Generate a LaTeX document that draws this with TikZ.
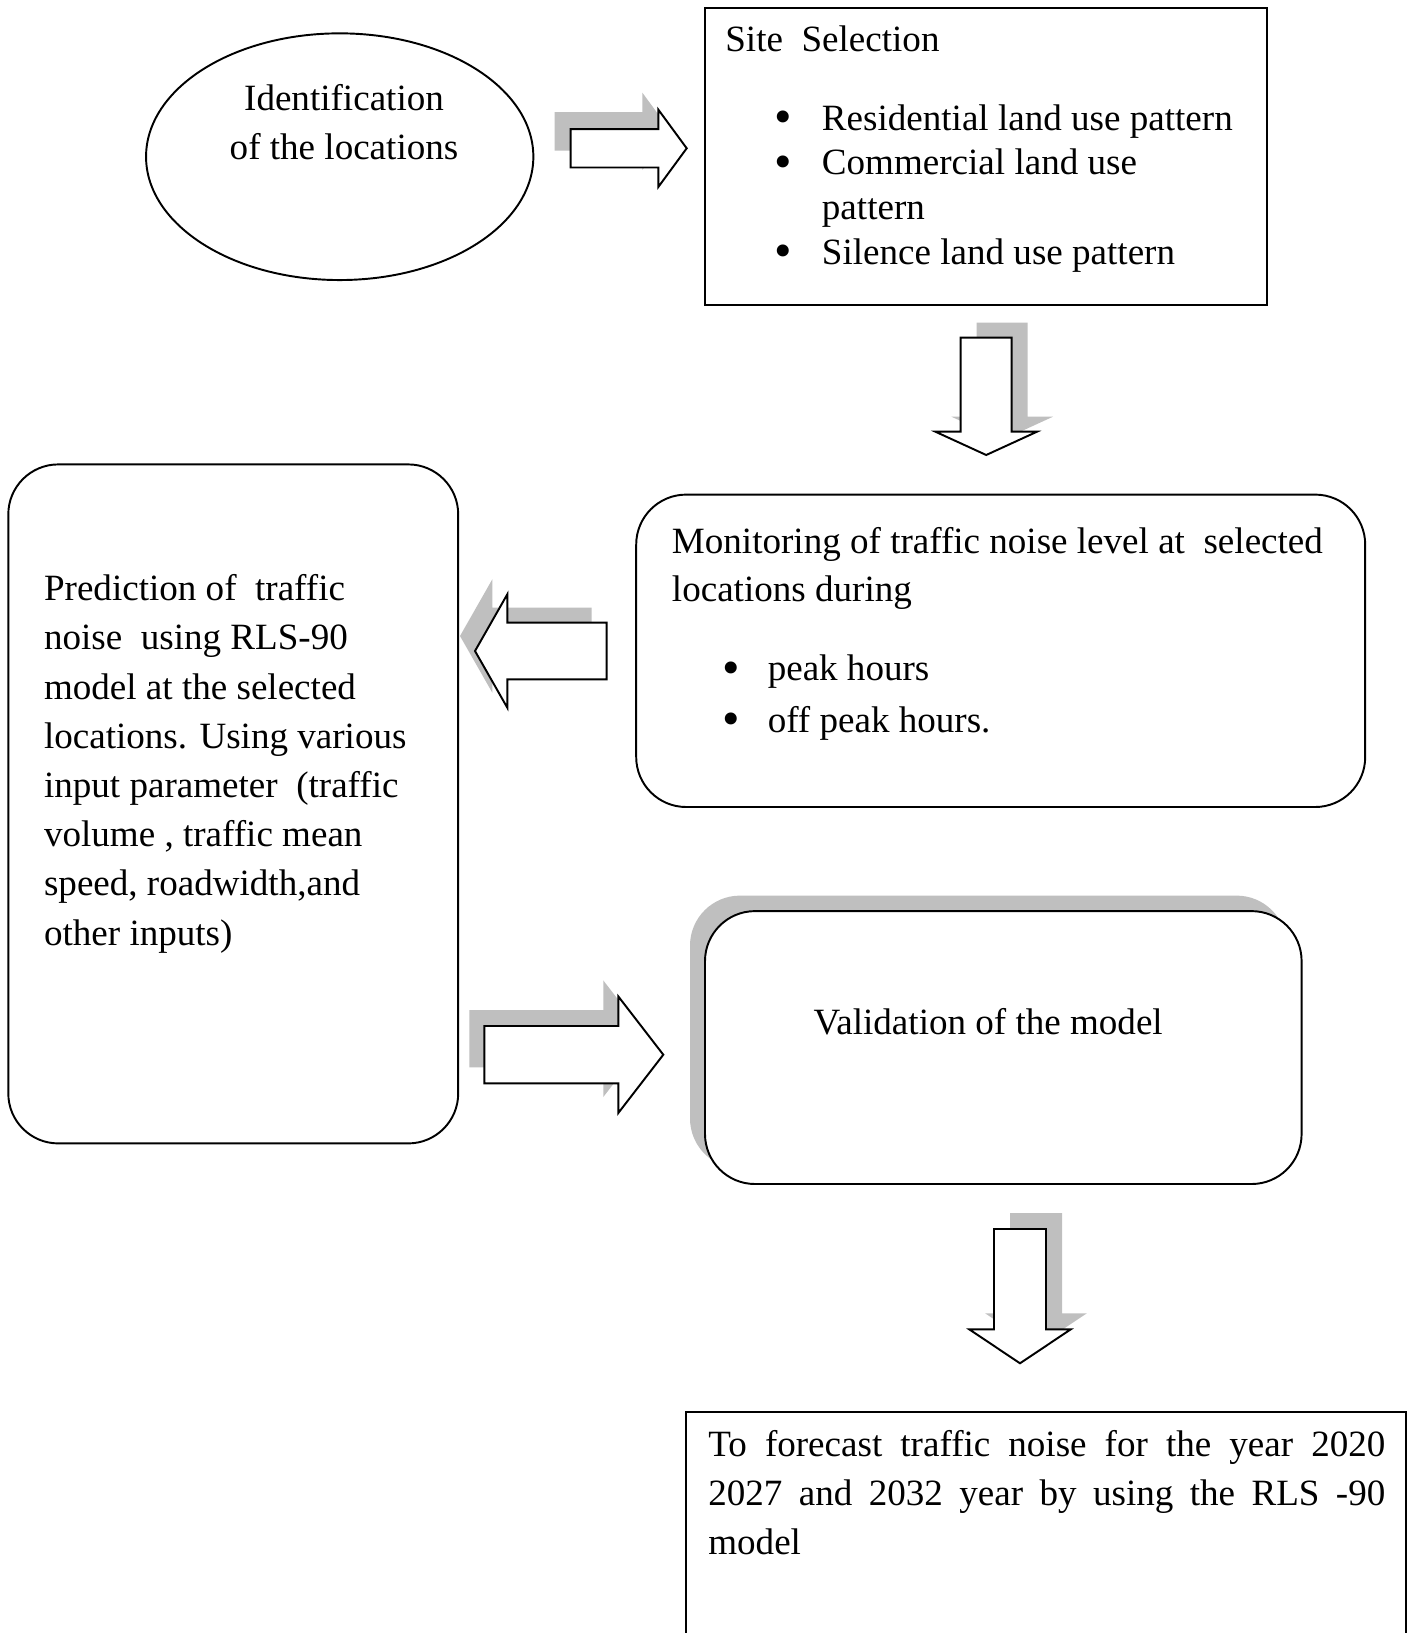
\documentclass[tikz,border=0pt]{standalone}
\usepackage{fontspec}
\setmainfont{Liberation Serif}
\usetikzlibrary{shapes.geometric, shadows}
\newlength{\px}
\setlength{\px}{0.02cm}
\tikzset{
  sqbox/.style={rectangle, draw=black, line width=1.1pt, fill=white,
    inner sep=0pt, outer sep=0pt},
  roundbox/.style={sqbox, rounded corners=1cm},
  oval/.style={ellipse, draw=black, line width=1.1pt, inner sep=0pt, outer sep=0pt},
  txt/.style={inner sep=0pt, align=left, font=\fontsize{21.1pt}{27.8pt}\selectfont},
  blockarrow/.style={draw=black, fill=white, line width=1.1pt, line join=miter},
  arrowshade/.style={fill=gray!50}
}
% bullet item: indent, bullet box width (in px)
\newcommand{\bulletat}[2]{\hspace*{#1\px}\makebox[#2\px][l]{\raisebox{-0.09em}{\scalebox{1.35}{\textbullet}}}}
% block arrow: tail, rotation, shadow shift, shaft length, total length, shaft half width, head half width
\newcommand{\fatarrow}[7]{%
  \begin{scope}[shift={#3}]
    \fill[arrowshade, shift={#1}, rotate=#2] (0,-#6) -- (#4,-#6) -- (#4,-#7) -- (#5,0)
      -- (#4,#7) -- (#4,#6) -- (0,#6) -- cycle;
  \end{scope}
  \filldraw[blockarrow, shift={#1}, rotate=#2] (0,-#6) -- (#4,-#6) -- (#4,-#7) -- (#5,0)
    -- (#4,#7) -- (#4,#6) -- (0,#6) -- cycle;
}

\begin{document}
\begin{tikzpicture}[x=0.02cm, y=-0.02cm]
  \useasboundingbox (0,0) rectangle (1412,1633);

  % boxes
  \node[oval, minimum width=387.3\px, minimum height=246.7\px] (ident) at (339.7,156.7) {};
  \node[sqbox, anchor=north west, minimum width=562.3\px, minimum height=296.8\px] (site) at (705,8.3) {};
  \node[roundbox, anchor=north west, minimum width=729\px, minimum height=312.4\px] (monitor) at (636.2,494.6) {};
  \node[roundbox, anchor=north west, minimum width=449.9\px, minimum height=679\px] (predict) at (8.3,464.4) {};
  \node[roundbox, anchor=north west, minimum width=596.6\px, minimum height=272.9\px,
    drop shadow={shadow xshift=-0.3cm, shadow yshift=0.31cm, opacity=1, fill=gray!50}] (valid) at (705,911.1) {};
  \node[sqbox, anchor=north west, minimum width=719.6\px, minimum height=240\px] (forecast) at (686.2,1412) {};

  % texts (base = last line)
  \node[txt, align=center, anchor=base, font=\fontsize{21.1pt}{27.55pt}\selectfont] (identtext) at (344,159.3)
    {Identification\\of the locations};
  \node[txt, anchor=base west, font=\fontsize{21.1pt}{25.34pt}\selectfont] (sitetext) at (725,264)
    {Site~ Selection\\[34.3\px]
     \bulletat{49.5}{47.1}Residential land use pattern\\
     \bulletat{49.5}{47.1}Commercial land use\\
     \hspace*{96.6\px}pattern\\
     \bulletat{49.5}{47.1}Silence land use pattern};
  \node[txt, anchor=base west, font=\fontsize{21.1pt}{27.72pt}\selectfont] (monitortext) at (671.6,732.6)
    {Monitoring of traffic noise level at~ selected\\
     locations during\\[30.3\px]
     \bulletat{50.9}{44.9}peak hours\\[3.1\px]
     \bulletat{50.9}{44.9}off peak hours.};
  \node[txt, anchor=base west, font=\fontsize{21.1pt}{28pt}\selectfont] (predicttext) at (43.7,945.1)
    {Prediction of~ traffic\\
     noise~ using RLS-90\\
     model at the selected\\
     locations. Using various\\
     input parameter~ (traffic\\
     volume , traffic mean\\
     speed, roadwidth,and\\
     other inputs)};
  \node[txt, anchor=base] (validtext) at (988.2,1034.6) {Validation of the model};
  \node[txt, anchor=base west, text width=677\px, align=justify,
    font=\fontsize{21.1pt}{28.06pt}\selectfont] (forecasttext) at (708,1456)
    {To forecast traffic noise for the year 2020\linebreak
     2027 and 2032 year by using the RLS -90\linebreak
     model};

  % block arrows
  \fatarrow{(570.7,148.3)}{0}{(-16,-17)}{87.6}{116}{19.2}{38.7}
  \fatarrow{(986.2,337.7)}{-90}{(16,-15)}{94}{117.3}{25.5}{50.8}
  \fatarrow{(606.7,651)}{180}{(-15,-15)}{99.4}{131.7}{28.3}{56.7}
  \fatarrow{(484.3,1054.7)}{0}{(-15,-16)}{134}{179}{28.7}{58.3}
  \fatarrow{(1020,1229)}{-90}{(16,-16)}{100.3}{134.3}{26}{50.8}
\end{tikzpicture}
\end{document}
